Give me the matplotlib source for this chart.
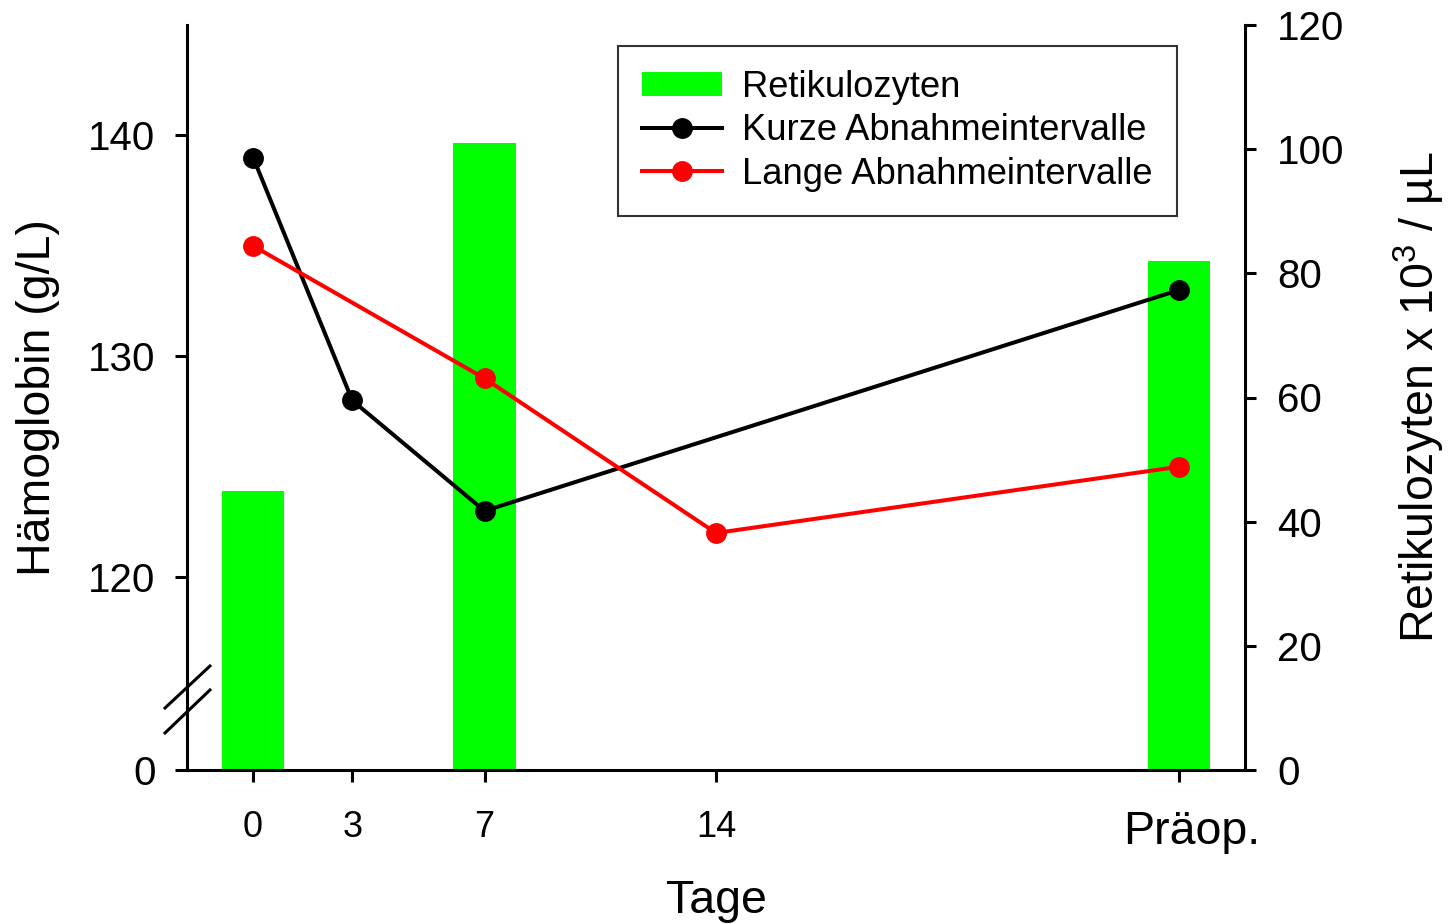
import matplotlib
matplotlib.use('Agg')
import matplotlib.pyplot as plt
import matplotlib.transforms as mtransforms
from matplotlib.lines import Line2D
import numpy as np

plt.rcParams['font.family'] = ['Liberation Sans', 'DejaVu Sans']
plt.rcParams['mathtext.fontset'] = 'custom'
plt.rcParams['mathtext.rm'] = 'Liberation Sans'
plt.rcParams['mathtext.it'] = 'Liberation Sans'

# days after surgery; "Präop." is placed at day 28
tage = [0, 3, 7, 14, 28]
tage_labels = ['0', '3', '7', '14', 'Präop.']

retik_x = [0, 7, 28]
retik = [45, 101, 82]            # Retikulozyten x 10^3 / µL

kurz_x = [0, 3, 7, 28]
kurz = [139, 128, 123, 133]      # Hämoglobin g/L, kurze Abnahmeintervalle

lang_x = [0, 7, 14, 28]
lang = [135, 129, 122, 125]      # Hämoglobin g/L, lange Abnahmeintervalle

# broken Hb scale: 0..120 squeezed into a short segment below 120
k = 8.73 / 120.0

def hb_fwd(v):
    v = np.asarray(v, dtype=float)
    return np.where(v >= 120, v, 120 - (120 - v) * k)

def hb_inv(u):
    u = np.asarray(u, dtype=float)
    return np.where(u >= 120, u, 120 - (120 - u) / k)

fig = plt.figure(figsize=(14.48, 9.24), dpi=100)
ax = fig.add_axes([187 / 1448, 1 - 770 / 924, 1058 / 1448, 745 / 924])
hb = ax.twinx()

lw = 2.2
# bars on the retic axis (right side)
bars = ax.bar(retik_x, retik, width=1.88, color='#00ff00', zorder=1,
              label='Retikulozyten')
ax.set_ylim(0, 120)
ax.set_yticks([0, 20, 40, 60, 80, 100, 120])
ax.yaxis.tick_right()
ax.yaxis.set_label_position('right')
ax.set_ylabel('Retikulozyten x 10$^3$ / µL', fontsize=33.5, labelpad=34)
ax.set_xlim(-2, 30)
ax.set_xticks(tage)
ax.set_xticklabels(tage_labels)
ax.set_xlabel('Tage', fontsize=33.5, labelpad=18)
ax.tick_params(axis='y', labelsize=29, width=lw, length=8, pad=15, direction='out')
ax.tick_params(axis='x', labelsize=26, width=lw, length=8.6, pad=20, direction='out')
shift = mtransforms.ScaledTranslation(0.13, 0, fig.dpi_scale_trans)
for lab in ax.get_xticklabels():
    if lab.get_text() == 'Präop.':
        lab.set_fontsize(33.5)
        lab.set_transform(lab.get_transform() + shift)
for s in ['top', 'left']:
    ax.spines[s].set_visible(False)
for s in ['bottom', 'right']:
    ax.spines[s].set_linewidth(lw)

# hemoglobin lines on the twin axis with left ticks
hb.set_yscale('function', functions=(hb_fwd, hb_inv))
hb.set_ylim(0, 145)
hb.yaxis.tick_left()
hb.yaxis.set_label_position('left')
hb.set_yticks([0, 120, 130, 140])
hb.set_yticklabels(['0', '120', '130', '140'])
hb.yaxis.set_minor_locator(matplotlib.ticker.NullLocator())
hb.tick_params(axis='y', labelsize=29, width=lw, length=8.6, pad=14, direction='out')
hb.set_ylabel('Hämoglobin (g/L)', fontsize=33.5, labelpad=20)
for s in ['top', 'right', 'bottom']:
    hb.spines[s].set_visible(False)
hb.spines['left'].set_visible(True)
hb.spines['left'].set_linewidth(lw)

l1, = hb.plot(kurz_x, kurz, color='black', lw=2.9, marker='o', ms=14,
              label='Kurze Abnahmeintervalle')
l2, = hb.plot(lang_x, lang, color='red', lw=2.9, marker='o', ms=14,
              label='Lange Abnahmeintervalle')

# axis break marks on the left spine
for y0, y1 in [(0.0832, 0.1396), (0.0497, 0.1074)]:
    hb.add_line(Line2D([-0.0208, 0.0217], [y0, y1], transform=hb.transAxes,
                       color='black', lw=lw, clip_on=False, zorder=5))

leg = fig.legend([bars, l1, l2],
                 ['Retikulozyten', 'Kurze Abnahmeintervalle', 'Lange Abnahmeintervalle'],
                 loc='upper right', bbox_to_anchor=(1177 / 1448, 1 - 46 / 924),
                 fontsize=26.2, frameon=True, fancybox=False, edgecolor='black',
                 handlelength=2.2, handleheight=0.65, handletextpad=0.55,
                 labelspacing=0.23, borderpad=0.66, borderaxespad=0)
leg.get_frame().set_linewidth(1.5)

fig.savefig('out.png', dpi=100)
